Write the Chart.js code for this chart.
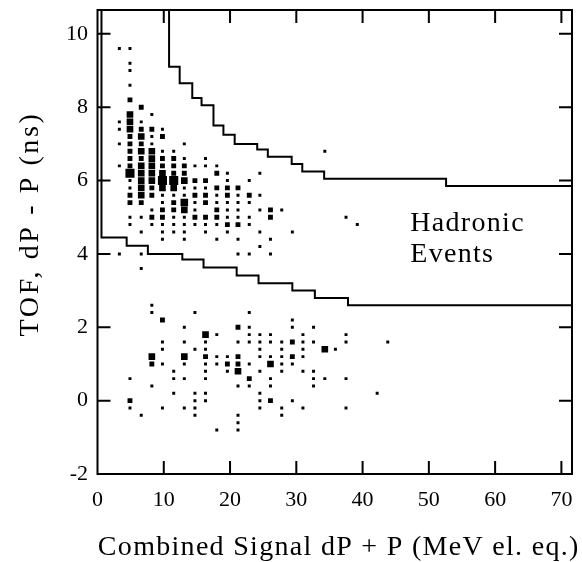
<!DOCTYPE html>
<html>
<head>
<meta charset="utf-8">
<title>TOF vs combined signal</title>
<script src="https://cdn.jsdelivr.net/npm/chart.js@4.4.1/dist/chart.umd.min.js"></script>
<style>
  html, body { margin: 0; padding: 0; background: #fff; }
  #chart { display: block; }
</style>
</head>
<body>
<canvas id="chart" width="582" height="562"></canvas>
<script>
// ticks
const xTicks = [0, 10, 20, 30, 40, 50, 60, 70];
const yTicks = [-2, 0, 2, 4, 6, 8, 10];

// cut boundaries, each y level holds from its x to the next x
const upperCutX = [10.8, 10.8, 12.4, 14.3, 15.7, 17.5, 19.0, 20.7, 24.1, 25.7, 29.3, 30.9, 34.2, 52.6, 72];
const upperCutY = [11, 9.1, 8.65, 8.25, 8.05, 7.5, 7.25, 7.0, 6.85, 6.65, 6.45, 6.25, 6.05, 5.85, 5.85];
const lowerCutX = [0.6, 0.6, 4.4, 7.6, 12.8, 16.0, 21.0, 24.3, 29.4, 32.8, 37.8, 72];
const lowerCutY = [11, 4.45, 4.22, 4.0, 3.85, 3.63, 3.41, 3.2, 3.0, 2.8, 2.6, 2.6];

// binned events: [signal (MeV), TOF (ns), relative count]
const hadronBins = [
  [3.3, 9.6, 1], [4.9, 9.6, 1], [4.9, 9.2, 1], [4.9, 9.0, 1], [4.9, 8.6, 1],
  [4.9, 8.2, 3], [6.6, 8.0, 3],
  [4.9, 7.8, 6], [8.2, 7.8, 1],
  [3.3, 7.6, 1], [4.9, 7.6, 6], [6.6, 7.6, 1],
  [3.3, 7.4, 1], [4.9, 7.4, 6], [6.6, 7.4, 3], [8.2, 7.4, 3], [9.8, 7.4, 1],
  [4.9, 7.2, 3], [6.6, 7.2, 6], [8.2, 7.2, 1], [9.8, 7.2, 3],
  [3.3, 7.0, 1], [4.9, 7.0, 3], [6.6, 7.0, 3], [8.2, 7.0, 1], [13.1, 7.0, 1],
  [4.9, 6.8, 3], [6.6, 6.8, 6], [8.2, 6.8, 6], [9.8, 6.8, 1], [11.5, 6.8, 1], [34.3, 6.8, 1],
  [4.9, 6.6, 3], [6.6, 6.6, 3], [8.2, 6.6, 6], [9.8, 6.6, 3], [11.5, 6.6, 3], [13.1, 6.6, 1], [16.3, 6.6, 1],
  [3.3, 6.4, 1], [4.9, 6.4, 3], [6.6, 6.4, 6], [8.2, 6.4, 6], [9.8, 6.4, 3], [11.5, 6.4, 3],
  [13.1, 6.4, 3], [14.7, 6.4, 1], [16.3, 6.4, 1], [18.0, 6.4, 1],
  [4.9, 6.2, 12], [6.6, 6.2, 6], [8.2, 6.2, 6], [9.8, 6.2, 6], [11.5, 6.2, 3], [13.1, 6.2, 3],
  [18.0, 6.2, 3], [19.6, 6.2, 1], [24.5, 6.2, 1],
  [4.9, 6.0, 1], [6.6, 6.0, 6], [8.2, 6.0, 6], [9.8, 6.0, 12], [11.5, 6.0, 12], [13.1, 6.0, 6],
  [14.7, 6.0, 3], [16.3, 6.0, 3], [19.6, 6.0, 1], [22.9, 6.0, 1],
  [4.9, 5.8, 1], [6.6, 5.8, 6], [8.2, 5.8, 3], [9.8, 5.8, 6], [11.5, 5.8, 6], [13.1, 5.8, 1],
  [14.7, 5.8, 1], [16.3, 5.8, 1], [18.0, 5.8, 3], [19.6, 5.8, 3], [21.2, 5.8, 3],
  [4.9, 5.6, 3], [6.6, 5.6, 6], [8.2, 5.6, 3], [9.8, 5.6, 1], [11.5, 5.6, 1], [13.1, 5.6, 1],
  [14.7, 5.6, 3], [16.3, 5.6, 3], [18.0, 5.6, 1], [19.6, 5.6, 3], [21.2, 5.6, 1], [22.9, 5.6, 3], [24.5, 5.6, 1],
  [4.9, 5.4, 3], [6.6, 5.4, 3], [9.8, 5.4, 1], [11.5, 5.4, 3], [13.1, 5.4, 8], [14.7, 5.4, 1],
  [16.3, 5.4, 3], [18.0, 5.4, 1], [19.6, 5.4, 1], [21.2, 5.4, 1], [22.9, 5.4, 1],
  [8.2, 5.2, 1], [9.8, 5.2, 3], [11.5, 5.2, 3], [13.1, 5.2, 6], [14.7, 5.2, 1], [18.0, 5.2, 3],
  [19.6, 5.2, 1], [21.2, 5.2, 1], [24.5, 5.2, 1], [26.1, 5.2, 3], [27.8, 5.2, 1],
  [4.9, 5.0, 1], [6.6, 5.0, 1], [8.2, 5.0, 3], [9.8, 5.0, 3], [11.5, 5.0, 1], [13.1, 5.0, 1],
  [14.7, 5.0, 3], [16.3, 5.0, 3], [18.0, 5.0, 3], [19.6, 5.0, 1], [21.2, 5.0, 1], [22.9, 5.0, 1],
  [26.1, 5.0, 3], [37.5, 5.0, 1],
  [4.9, 4.8, 1], [8.2, 4.8, 1], [9.8, 4.8, 1], [11.5, 4.8, 1], [13.1, 4.8, 1], [14.7, 4.8, 1],
  [16.3, 4.8, 1], [18.0, 4.8, 1], [19.6, 4.8, 3], [21.2, 4.8, 3], [22.9, 4.8, 1], [39.2, 4.8, 1],
  [6.6, 4.6, 1], [9.8, 4.6, 1], [11.5, 4.6, 1], [13.1, 4.6, 1], [16.3, 4.6, 1], [19.6, 4.6, 1],
  [24.5, 4.6, 1], [29.4, 4.6, 1],
  [9.8, 4.4, 1], [13.1, 4.4, 1], [18.0, 4.4, 1], [21.2, 4.4, 1], [26.1, 4.4, 1],
  [24.5, 4.2, 1],
  [3.3, 4.0, 1], [6.6, 4.0, 1], [21.2, 4.0, 1], [22.9, 4.0, 1], [26.1, 4.0, 1],
  [6.6, 3.6, 1]
];

const lowBins = [
  [8.2, 2.6, 1],
  [8.2, 2.4, 1], [14.7, 2.4, 1], [22.9, 2.4, 1],
  [9.8, 2.2, 3], [29.4, 2.2, 1],
  [13.1, 2.0, 1], [21.2, 2.0, 3], [22.9, 2.0, 1], [29.4, 2.0, 1], [32.6, 2.0, 1],
  [16.3, 1.8, 6], [18.0, 1.8, 1], [22.9, 1.8, 1], [24.5, 1.8, 1], [26.1, 1.8, 1], [31.0, 1.8, 1], [37.5, 1.8, 1],
  [9.8, 1.6, 1], [13.1, 1.6, 1], [16.3, 1.6, 1], [21.2, 1.6, 1], [22.9, 1.6, 1], [24.5, 1.6, 1],
  [26.1, 1.6, 1], [27.8, 1.6, 1], [29.4, 1.6, 3], [31.0, 1.6, 1], [32.6, 1.6, 1], [37.5, 1.6, 1], [43.8, 1.6, 1],
  [9.8, 1.4, 1], [14.7, 1.4, 1], [16.3, 1.4, 1], [24.5, 1.4, 1], [27.8, 1.4, 1], [31.0, 1.4, 1],
  [34.3, 1.4, 6], [35.9, 1.4, 1],
  [8.2, 1.2, 6], [13.1, 1.2, 6], [16.3, 1.2, 3], [18.0, 1.2, 1], [19.6, 1.2, 1], [21.2, 1.2, 3],
  [24.5, 1.2, 1], [26.1, 1.2, 1], [27.8, 1.2, 1], [29.4, 1.2, 3], [31.0, 1.2, 1],
  [8.2, 1.0, 3], [9.8, 1.0, 1], [13.1, 1.0, 1], [16.3, 1.0, 1], [18.0, 1.0, 1], [19.6, 1.0, 3],
  [21.2, 1.0, 3], [22.9, 1.0, 1], [26.1, 1.0, 6], [27.8, 1.0, 1], [29.4, 1.0, 1],
  [11.5, 0.8, 1], [16.3, 0.8, 1], [19.6, 0.8, 1], [21.2, 0.8, 6], [24.5, 0.8, 1], [27.8, 0.8, 1],
  [31.0, 0.8, 1], [32.6, 0.8, 1],
  [4.9, 0.6, 1], [11.5, 0.6, 1], [13.1, 0.6, 1], [16.3, 0.6, 1], [22.9, 0.6, 3], [26.1, 0.6, 1],
  [32.6, 0.6, 1], [34.3, 0.6, 1], [37.5, 0.6, 1],
  [8.2, 0.4, 1], [21.2, 0.4, 1], [22.9, 0.4, 1], [26.1, 0.4, 1], [32.6, 0.4, 1],
  [11.5, 0.2, 1], [14.7, 0.2, 1], [16.3, 0.2, 1], [24.5, 0.2, 1], [42.2, 0.2, 1],
  [4.9, 0.0, 3], [14.7, 0.0, 1], [16.3, 0.0, 1], [24.5, 0.0, 1], [26.1, 0.0, 3], [29.4, 0.0, 1],
  [4.9, -0.2, 1], [9.8, -0.2, 1], [13.1, -0.2, 1], [14.7, -0.2, 1], [24.5, -0.2, 1], [27.8, -0.2, 1],
  [31.0, -0.2, 1], [37.5, -0.2, 1],
  [6.6, -0.4, 1], [14.7, -0.4, 1], [21.2, -0.4, 1], [27.8, -0.4, 1],
  [21.2, -0.6, 1],
  [18.0, -0.8, 1], [21.2, -0.8, 1]
];

const xTitle = "Combined Signal dP + P (MeV el. eq.)";
const yTitle = "TOF, dP - P (ns)";
const noteLines = ["Hadronic", "Events"];

const serif = "'Liberation Serif', 'Times New Roman', serif";

function toPoints(bins) {
  return bins.map(([x, y, n]) => ({ x: x, y: y, n: n }));
}

function toSteps(xs, ys) {
  return xs.map((x, i) => ({ x: x, y: ys[i] }));
}

// square side grows with the bin count
function binRadius(c) {
  return c.raw ? 2.1 * Math.pow(c.raw.n, 0.45) : 0;
}

// box frame with inward ticks, axis titles and the text note
const frameTicks = {
  id: "frameTicks",
  afterDatasetsDraw(chart) {
    const { ctx, chartArea: a, scales } = chart;
    const xs = scales.x;
    const ys = scales.y;
    const len = 13;
    ctx.save();
    ctx.strokeStyle = "#000";
    ctx.lineWidth = 2;
    ctx.strokeRect(a.left, a.top, a.right - a.left, a.bottom - a.top);
    ctx.beginPath();
    xTicks.forEach((v) => {
      const px = xs.getPixelForValue(v);
      if (px < a.left + 2) return;
      ctx.moveTo(px, a.bottom);
      ctx.lineTo(px, a.bottom - len);
      ctx.moveTo(px, a.top);
      ctx.lineTo(px, a.top + len);
    });
    yTicks.forEach((v) => {
      const py = ys.getPixelForValue(v);
      if (py > a.bottom - 2) return;
      ctx.moveTo(a.left, py);
      ctx.lineTo(a.left + len, py);
      ctx.moveTo(a.right, py);
      ctx.lineTo(a.right - len, py);
    });
    ctx.stroke();

    ctx.fillStyle = "#000";
    ctx.font = "28px " + serif;
    ctx.textBaseline = "alphabetic";

    // note inside the plot
    ctx.letterSpacing = "1.3px";
    ctx.textAlign = "left";
    const nx = xs.getPixelForValue(47.2);
    const ny = ys.getPixelForValue(4.62);
    noteLines.forEach((t, i) => ctx.fillText(t, nx, ny + i * 31));

    // axis titles
    ctx.textAlign = "center";
    ctx.fillText(xTitle, (a.left + a.right) / 2 + 4, 555);
    ctx.letterSpacing = "2.6px";
    ctx.translate(38, 224);
    ctx.rotate(-Math.PI / 2);
    ctx.fillText(yTitle, 0, 0);
    ctx.restore();
  }
};

new Chart(document.getElementById("chart"), {
  type: "scatter",
  data: {
    datasets: [
      {
        label: "hadronic",
        data: toPoints(hadronBins),
        pointStyle: "rect",
        backgroundColor: "#000",
        borderWidth: 0,
        pointRadius: binRadius
      },
      {
        label: "low",
        data: toPoints(lowBins),
        pointStyle: "rect",
        backgroundColor: "#000",
        borderWidth: 0,
        pointRadius: binRadius
      },
      {
        type: "line",
        label: "upper cut",
        data: toSteps(upperCutX, upperCutY),
        stepped: true,
        borderColor: "#000",
        borderWidth: 2,
        pointRadius: 0,
        fill: false
      },
      {
        type: "line",
        label: "lower cut",
        data: toSteps(lowerCutX, lowerCutY),
        stepped: true,
        borderColor: "#000",
        borderWidth: 2,
        pointRadius: 0,
        fill: false
      }
    ]
  },
  options: {
    responsive: false,
    animation: false,
    devicePixelRatio: 1,
    layout: { padding: { left: 0, right: 10, top: 10, bottom: 0 } },
    plugins: {
      legend: { display: false },
      tooltip: { enabled: false }
    },
    scales: {
      x: {
        type: "linear",
        min: 0,
        max: 71.6,
        grid: { display: false, drawTicks: false },
        border: { display: false },
        afterBuildTicks: (axis) => {
          axis.ticks = xTicks.map((v) => ({ value: v }));
        },
        afterFit: (scale) => {
          scale.height = 88;
          scale.paddingLeft = 0;
          scale.paddingRight = 0;
        },
        ticks: {
          autoSkip: false,
          maxRotation: 0,
          padding: 13,
          color: "#000",
          font: { family: serif, size: 22 }
        }
      },
      y: {
        type: "linear",
        min: -2,
        max: 10.65,
        grid: { display: false, drawTicks: false },
        border: { display: false },
        afterBuildTicks: (axis) => {
          axis.ticks = yTicks.map((v) => ({ value: v }));
        },
        afterFit: (scale) => {
          scale.width = 97.5;
          scale.paddingTop = 0;
          scale.paddingBottom = 0;
        },
        ticks: {
          autoSkip: false,
          padding: 9.5,
          color: "#000",
          font: { family: serif, size: 22 }
        }
      }
    }
  },
  plugins: [frameTicks]
});
</script>
</body>
</html>
